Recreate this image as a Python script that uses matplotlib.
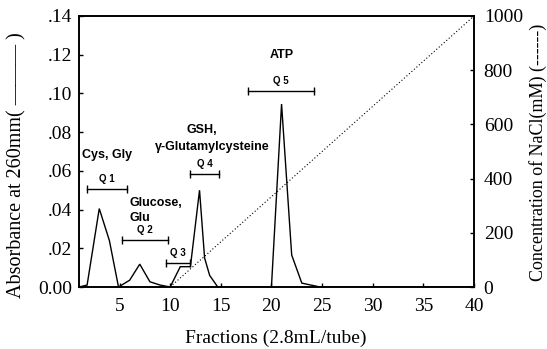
import matplotlib
matplotlib.use("Agg")
import matplotlib.pyplot as plt
from matplotlib.ticker import FixedLocator, FixedFormatter

# Absorbance (260 nm) elution profile
fractions = [1, 1.8, 3, 4, 4.9, 6, 7, 8, 9, 10, 11, 12, 12.9, 13.4, 13.9, 14.7,
             20, 21, 22, 23, 24.8, 40]
absorbance = [0.0, 0.001, 0.0405, 0.024, 0.0, 0.0035, 0.0118, 0.0027, 0.001, 0.0,
              0.0105, 0.0105, 0.050, 0.015, 0.006, 0.0,
              0.0, 0.0945, 0.0165, 0.002, 0.0, 0.0]

# NaCl gradient
nacl_fractions = [10, 40]
nacl_conc = [0, 1000]

# Pooled fraction ranges: (label, start, end, bar level)
pool_labels = ["Q 1", "Q 2", "Q 3", "Q 4", "Q 5"]
pool_start = [1.8, 5.2, 9.6, 12.0, 17.7]
pool_end = [5.75, 9.8, 12.0, 14.8, 24.25]
pool_level = [0.0505, 0.0243, 0.0122, 0.0584, 0.1014]

# Compound names
compound_texts = ["Cys, Gly", "Glucose,\nGlu", "GSH,", "\u03b3-Glutamylcysteine", "ATP"]
compound_x = [1.3, 5.95, 11.6, 14.2, 21.05]
compound_y = [0.068, 0.0395, 0.0811, 0.0725, 0.1197]
compound_ha = ["left", "left", "left", "center", "center"]

x_ticks = [5, 10, 15, 20, 25, 30, 35, 40]
y_ticks = [0.0, 0.02, 0.04, 0.06, 0.08, 0.10, 0.12, 0.14]
y_tick_labels = ["0.00", ".02", ".04", ".06", ".08", ".10", ".12", ".14"]
y2_ticks = [0, 200, 400, 600, 800, 1000]
y2_tick_labels = ["0", "200", "400", "600", "800", "1000"]

serif = "Liberation Serif"
sans = "Liberation Sans"

fig = plt.figure(figsize=(5.47, 3.49), dpi=100)
ax = fig.add_axes([79 / 547, 1 - 287 / 349, (474 - 79) / 547, (287 - 16) / 349])
ax2 = ax.twinx()

ax.plot(fractions, absorbance, color="black", lw=1.0, solid_joinstyle="miter")
ax2.plot(nacl_fractions, nacl_conc, color="black", lw=0.8, linestyle=(0, (1, 2)))

ax.set_xlim(1, 40)
ax.set_ylim(0, 0.14)
ax2.set_ylim(0, 1000)

ax.xaxis.set_major_locator(FixedLocator(x_ticks))
ax.yaxis.set_major_locator(FixedLocator(y_ticks))
ax.yaxis.set_major_formatter(FixedFormatter(y_tick_labels))
ax2.yaxis.set_major_locator(FixedLocator(y2_ticks))
ax2.yaxis.set_major_formatter(FixedFormatter(y2_tick_labels))

for a in (ax, ax2):
    for s in a.spines.values():
        s.set_linewidth(1.2)
    a.tick_params(direction="in", length=3, width=1.0, labelsize=14)
    for lbl in a.get_xticklabels() + a.get_yticklabels():
        lbl.set_fontfamily(serif)
ax.tick_params(axis="x", pad=8)
ax.tick_params(axis="y", pad=5)
ax2.tick_params(axis="y", pad=7)

# Pool bars with end caps
for lab, x0, x1, yl in zip(pool_labels, pool_start, pool_end, pool_level):
    ax.plot([x0, x1], [yl, yl], color="black", lw=1.0)
    ax.plot([x0, x1], [yl, yl], linestyle="none", marker="|", markersize=6,
            markeredgewidth=1.0, color="black")
    ax.text((x0 + x1) / 2, yl + 0.0026, lab, ha="center", va="bottom",
            fontsize=7, fontweight="bold", family=sans)

for t, x, y, ha in zip(compound_texts, compound_x, compound_y, compound_ha):
    ax.text(x, y, t, ha=ha, va="center", fontsize=9, fontweight="bold",
            family=sans, linespacing=1.25)

fig.text(276 / 547, 1 - 338 / 349, "Fractions (2.8mL/tube)", ha="center",
         va="center", fontsize=14, family=serif)
fig.text(17 / 547, 1 - 165 / 349, "Absorbance at 260mm( \u2014\u2014\u2014 )",
         rotation=90, ha="center", va="center", fontsize=14.5, family=serif)
fig.text(538 / 547, 1 - 152 / 349, "Concentration of NaCl(mM) (------)",
         rotation=90, ha="center", va="center", fontsize=13, family=serif)

fig.savefig("out.png", dpi=100)
